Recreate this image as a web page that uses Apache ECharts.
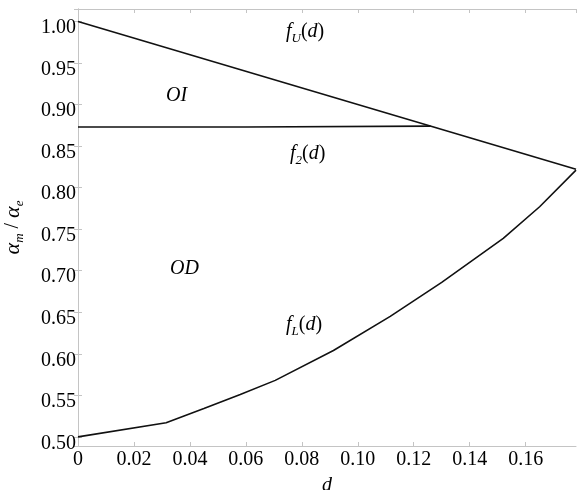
<!DOCTYPE html>
<html>
<head>
<meta charset="utf-8">
<script src="https://cdn.jsdelivr.net/npm/echarts@6/dist/echarts.min.js"></script>
<style>html,body{margin:0;padding:0;background:#fff}#c{width:577px;height:490px}</style>
</head>
<body>
<div id="c"></div>
<script>
// Data
const dU = [0, 0.178];
const fU = [1.000, 0.822];
const d2 = [0, 0.06, 0.126];
const f2 = [0.873, 0.873, 0.874];
const dL = [0, 0.0315, 0.045, 0.058, 0.0705, 0.0913, 0.1116, 0.130, 0.152, 0.165, 0.178];
const fL = [0.500, 0.517, 0.534, 0.551, 0.568, 0.604, 0.645, 0.686, 0.739, 0.777, 0.821];
const xMin = 0, xMax = 0.178;
const yMin = 0.489, yMax = 1.015;

const FONT = 'Liberation Serif';
const pair = (xs, ys) => xs.map((x, i) => [x, ys[i]]);

const chart = echarts.init(document.getElementById('c'), null, {renderer: 'canvas'});
const axisGray = '#c4c4c4';
const subRich = {
  f: {fontFamily: FONT, fontStyle: 'italic', fontSize: 20, color: '#000', lineHeight: 26, verticalAlign: 'middle'},
  s: {fontFamily: FONT, fontStyle: 'italic', fontSize: 13, color: '#000', lineHeight: 13, verticalAlign: 'bottom'},
  p: {fontFamily: FONT, fontSize: 20, color: '#000', lineHeight: 26, verticalAlign: 'middle'},
  i: {fontFamily: FONT, fontStyle: 'italic', fontSize: 20, color: '#000', lineHeight: 26, verticalAlign: 'middle'}
};
function txt(x, y, text) {
  return {type: 'text', left: x, top: y, style: {text: text, rich: subRich, fontFamily: FONT, fontSize: 20}};
}
const xLab = v => '{v|' + (Math.abs(v) < 1e-9 ? '0' : v.toFixed(2)) + '}';
const yLab = v => '{v|' + v.toFixed(2) + '}';
const common = {
  axisLine: {show: true, lineStyle: {color: axisGray, width: 1}},
  axisTick: {show: true, inside: true, length: 4, lineStyle: {color: axisGray}},
  splitLine: {show: false}
};
chart.setOption({
  animation: false,
  backgroundColor: '#fff',
  textStyle: {fontFamily: FONT},
  grid: {left: 78, right: 1, top: 9, bottom: 44, containLabel: false, outerBoundsMode: 'none'},
  xAxis: [
    Object.assign({type: 'value', min: xMin, max: xMax, splitNumber: 9, minInterval: 0.02, maxInterval: 0.02,
      position: 'bottom',
      axisLabel: {show: true, formatter: xLab, showMinLabel: true, showMaxLabel: false, fontFamily: FONT, fontSize: 20, color: '#000', margin: 4,
        rich: {v: {fontFamily: FONT, fontSize: 20, color: '#000'}}},
      name: 'd', nameLocation: 'middle', nameGap: 30,
      nameTextStyle: {fontFamily: FONT, fontStyle: 'italic', fontSize: 20, color: '#000'}}, common),
    Object.assign({type: 'value', min: xMin, max: xMax, splitNumber: 9, minInterval: 0.02, maxInterval: 0.02,
      position: 'top', axisLabel: {show: false}}, common)
  ],
  yAxis: [
    Object.assign({type: 'value', min: yMin, max: yMax, splitNumber: 10, minInterval: 0.05, maxInterval: 0.05,
      position: 'left',
      axisLabel: {show: true, formatter: yLab, showMinLabel: false, showMaxLabel: false, fontFamily: FONT, fontSize: 20, color: '#000', margin: 2,
        rich: {v: {fontFamily: FONT, fontSize: 20, color: '#000', padding: [13, 0, 0, 0]}}},
      name: '{a|α}{s|m}{p| / }{a|α}{s|e}', nameLocation: 'middle', nameGap: 52, nameRotate: 90,
      nameTextStyle: {rich: {
        a: {fontFamily: FONT, fontStyle: 'italic', fontSize: 22, color: '#000', lineHeight: 26, verticalAlign: 'middle'},
        s: {fontFamily: FONT, fontStyle: 'italic', fontSize: 13, color: '#000', lineHeight: 13, verticalAlign: 'bottom'},
        p: {fontFamily: FONT, fontSize: 20, color: '#000', lineHeight: 26, verticalAlign: 'middle'}
      }}}, common),
    Object.assign({type: 'value', min: yMin, max: yMax, splitNumber: 10, minInterval: 0.05, maxInterval: 0.05,
      position: 'right', axisLabel: {show: false}}, common)
  ],
  series: [
    {type: 'line', name: 'fU', data: pair(dU, fU), showSymbol: false, lineStyle: {color: '#111', width: 1.6}},
    {type: 'line', name: 'f2', data: pair(d2, f2), showSymbol: false, lineStyle: {color: '#111', width: 1.6}},
    {type: 'line', name: 'fL', data: pair(dL, fL), showSymbol: false, smooth: false, lineStyle: {color: '#111', width: 1.6}}
  ],
  graphic: [
    txt(286, 22, '{f|f}{s|U}{p|(}{i|d}{p|)}'),
    txt(166, 86, '{i|OI}'),
    txt(290, 144, '{f|f}{s|2}{p|(}{i|d}{p|)}'),
    txt(170, 259, '{i|OD}'),
    txt(286, 315, '{f|f}{s|L}{p|(}{i|d}{p|)}')
  ]
});
</script>
</body>
</html>
